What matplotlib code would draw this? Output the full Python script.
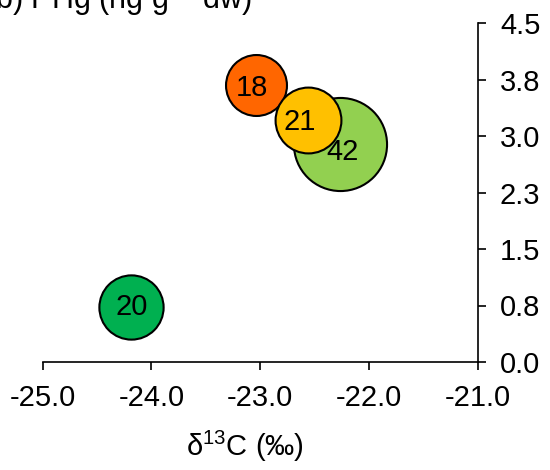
#!/usr/bin/env python3
"""Bubble chart: PHg vs d13C, bubble size = sample value."""

import matplotlib
matplotlib.use("Agg")
import matplotlib.pyplot as plt

plt.rcParams["font.family"] = ["Liberation Sans", "DejaVu Sans"]
plt.rcParams["mathtext.fontset"] = "custom"
plt.rcParams["mathtext.rm"] = "Liberation Sans"
plt.rcParams["mathtext.it"] = "Liberation Sans:italic"
plt.rcParams["mathtext.default"] = "regular"

# bubble data (d13C, PHg, bubble value, fill colour)
d13c = [-24.19, -22.27, -23.04, -22.56]
phg = [0.73, 2.90, 3.68, 3.21]
sizes = [20, 42, 18, 21]
colors = ["#00B050", "#92D050", "#FF6600", "#FFC000"]
# data labels were nudged by hand in the original (offsets in points)
label_offsets = [(0.5, 0), (2.5, -6), (-3, -2.5), (-5.8, -1.5)]

xticks = [-25.0, -24.0, -23.0, -22.0, -21.0]
yticks = [0.0, 0.75, 1.5, 2.25, 3.0, 3.75, 4.5]
ytick_labels = ["0.0", "0.8", "1.5", "2.3", "3.0", "3.8", "4.5"]

FS = 21
SCALE = 107  # points^2 per unit of bubble value (area ~ value)


def main() -> None:
    fig = plt.figure(figsize=(5.5, 4.7), dpi=100)
    ax = fig.add_axes([0.0776, 0.2298, 0.7909, 0.7212])

    for x, y, v, c, off in zip(d13c, phg, sizes, colors, label_offsets):
        ax.scatter(x, y, s=v * SCALE, color=c, edgecolor="black",
                   linewidth=1.5, zorder=3, clip_on=False)
        ax.annotate(str(v), (x, y), xytext=off, textcoords="offset points",
                    ha="center", va="center", fontsize=FS, zorder=4)

    ax.set_xlim(-25, -21)
    ax.set_ylim(0, 4.5)
    ax.set_xticks(xticks)
    ax.set_xticklabels([f"{t:.1f}" for t in xticks])
    ax.set_yticks(yticks)
    ax.set_yticklabels(ytick_labels)

    ax.spines["top"].set_visible(False)
    ax.spines["left"].set_visible(False)
    ax.yaxis.tick_right()
    ax.tick_params(axis="both", direction="out", length=6, width=1.2,
                   labelsize=FS, color="black")
    ax.tick_params(axis="x", pad=10)
    ax.tick_params(axis="y", pad=10)
    for s in ("bottom", "right"):
        ax.spines[s].set_linewidth(1.2)

    ax.set_xlabel("δ$^{13}$C (‰)", fontsize=FS)
    ax.xaxis.set_label_coords(0.465, -0.198)

    # y title sits at the top-left, partly cut off by the figure edge
    fig.text(251 / 550, 1 - 9 / 470, "(b) PHg (ng g$^{-1}$ dw)", ha="right",
             va="baseline", fontsize=FS + 1)

    fig.savefig("out.png", dpi=100)


if __name__ == "__main__":
    main()
